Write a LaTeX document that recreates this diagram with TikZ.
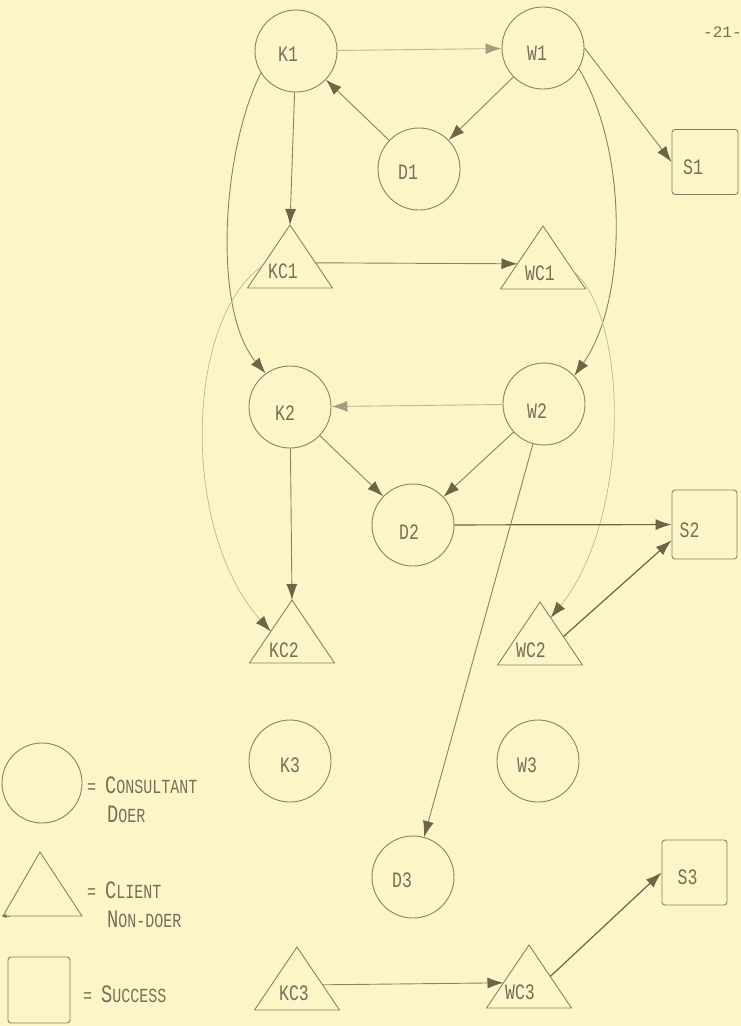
\documentclass[tikz,border=0pt]{standalone}
\usepackage{fontspec}
\usetikzlibrary{arrows.meta,calc}
\newfontfamily\lettering[FakeStretch=0.75]{Liberation Mono}
\newfontfamily\typed{Liberation Mono}

\definecolor{paper}{RGB}{252,245,200}
\definecolor{ink}{RGB}{138,130,102}
\definecolor{faint}{RGB}{190,183,150}
\definecolor{tipc}{RGB}{108,102,70}
\definecolor{tipl}{RGB}{165,158,128}
\definecolor{txt}{RGB}{118,112,90}

% triangle: name, apex x, apex y, label dx, label dy, label
\newcommand\trinode[6]{%
  \coordinate (#1-apex) at (#2,#3);
  \coordinate (#1-bl) at ($(#1-apex)+(-42.5,63)$);
  \coordinate (#1-br) at ($(#1-apex)+(42.5,63)$);
  \draw[shp] (#1-apex) -- (#1-br) -- (#1-bl) -- cycle;
  \node[lbl] (#1) at ($(#1-apex)+(#4,#5)$) {#6};
}
% legend words: large initial, small capitals after
\newcommand\capword[2]{{\fontsize{25}{26}\selectfont #1}{\fontsize{20}{22}\selectfont #2}}

\tikzset{
  shp/.style={draw=ink, line width=0.9pt},
  circ/.style={shp, circle, minimum size=82pt, inner sep=0pt},
  sq/.style={shp, rectangle, rounded corners=3pt, inner sep=0pt},
  lbl/.style={text=txt, font=\lettering\fontsize{22}{24}\selectfont, inner sep=0pt},
  legend/.style={text=txt, font=\lettering\fontsize{20}{22}\selectfont, inner sep=0pt, anchor=base west},
  arr/.style={draw=ink, line width=0.9pt, -{Latex[length=16pt,width=11pt,color=tipc]}},
  arrbold/.style={arr, line width=1.2pt, draw=tipc},
  arrlight/.style={draw=faint, line width=0.9pt, -{Latex[length=16pt,width=11pt,color=tipl]}},
  arrfaint/.style={draw=faint, line width=0.7pt, -{Latex[length=16pt,width=11pt,color=tipc]}},
}

\begin{document}
\begin{tikzpicture}[x=1pt,y=-1pt]
\useasboundingbox (0,0) rectangle (741,1026);
\fill[paper] (0,0) rectangle (741,1026);

% page number
\node[text=txt, font=\typed\fontsize{16}{17}\selectfont, anchor=west, inner sep=0pt] (pageno) at (703,32) {-21-};

% consultants / doers
\node[circ, label={[lbl,xshift=-8pt,yshift=-3pt]center:K1}] (k1) at (296,51) {};
\node[circ, label={[lbl,xshift=-6pt,yshift=-5pt]center:W1}] (w1) at (543,48) {};
\node[circ, label={[lbl,xshift=-11pt,yshift=-3pt]center:D1}] (d1) at (419,169) {};
\node[circ, label={[lbl,xshift=-5pt,yshift=-6pt]center:K2}] (k2) at (290,407) {};
\node[circ, label={[lbl,xshift=-7pt,yshift=-7pt]center:W2}] (w2) at (544,404) {};
\node[circ, label={[lbl,xshift=-4pt,yshift=-7pt]center:D2}] (d2) at (413,525) {};
\node[circ, label={[lbl,xshift=0pt,yshift=-4pt]center:K3}] (k3) at (290,761) {};
\node[circ, label={[lbl,xshift=-11pt,yshift=-4pt]center:W3}] (w3) at (538,761) {};
\node[circ, label={[lbl,xshift=-11pt,yshift=-3pt]center:D3}] (d3) at (413,877) {};

% successes
\node[sq, minimum width=66pt, minimum height=65pt, label={[lbl,xshift=-12pt,yshift=-5pt]center:S1}] (s1) at (705,162) {};
\node[sq, minimum width=65pt, minimum height=69pt, label={[lbl,xshift=-15pt,yshift=-6pt]center:S2}] (s2) at (704.5,524.5) {};
\node[sq, minimum width=65pt, minimum height=65pt, label={[lbl,xshift=-7pt,yshift=-5pt]center:S3}] (s3) at (694.5,872.5) {};

% clients / non-doers
\trinode{kc1}{290}{225}{-7}{46}{KC1}
\trinode{wc1}{543}{226}{-3}{47}{WC1}
\trinode{kc2}{292}{600}{-8}{50}{KC2}
\trinode{wc2}{540}{602}{-9}{48}{WC2}
\trinode{kc3}{297}{947}{-3}{46}{KC3}
\trinode{wc3}{529}{945}{-9}{47}{WC3}

% first round
\draw[arrlight] (k1) -- (w1);
\draw[arr] (w1) -- (d1);
\draw[arr] (d1) -- (k1);
\draw[arr] (w1.east) -- (s1.west);
\draw[arr] (k1) -- (kc1-apex);
\draw[arr] ($(kc1-apex)!0.6!(kc1-br)$) -- ($(wc1-apex)!0.6!(wc1-bl)$);
\draw[arr] (k1.212) .. controls (222,150) and (212,310) .. (k2.126);
\draw[arr] (w1.-30) .. controls (628,150) and (628,300) .. (w2.43);
\draw[arrfaint] ($(kc1-apex)!0.65!(kc1-bl)$) .. controls (185,320) and (180,530) .. ($(kc2-apex)!0.5!(kc2-bl)$);
\draw[arrfaint] ($(wc1-apex)!0.72!(wc1-br)$) .. controls (630,320) and (630,520) .. ($(wc2-apex)!0.25!(wc2-br)$);

% second round
\draw[arrlight] (w2) -- (k2);
\draw[arr] (k2) -- (d2);
\draw[arr] (w2) -- (d2);
\draw[arr] (k2) -- (kc2-apex);
\draw[arrbold] (d2) -- (s2);
\draw[arrbold] ($(wc2-apex)!0.55!(wc2-br)$) -- ($(s2.west)!0.45!(s2.south west)$);
\draw[arr] (w2) -- (d3);

% third round
\draw[arr] ($(kc3-apex)!0.6!(kc3-br)$) -- ($(wc3-apex)!0.6!(wc3-bl)$);
\draw[arrbold] ($(wc3-apex)!0.5!(wc3-br)$) -- (s3.west);

% legend
\node[circ, minimum size=80pt] (keyc) at (42,783) {};
\node[legend] (keyct) at (87,793) {= \capword{C}{ONSULTANT}};
\node[legend] (keycd) at (107,822) {\capword{D}{OER}};
\draw[shp] (40,852) -- (82,916) -- (3,916) -- cycle;
\draw[draw=ink, line width=0.7pt, -{Stealth[length=5pt,width=4pt,color=tipc]}] (10,916) -- (2,916);
\node[legend] (keyt) at (87,898) {= \capword{C}{LIENT}};
\node[legend] (keytd) at (107,927) {\capword{N}{ON-DOER}};
\node[sq, minimum width=62pt, minimum height=66pt] (keys) at (39,990) {};
\node[legend] (keyst) at (83,1002) {= \capword{S}{UCCESS}};
\end{tikzpicture}
\end{document}
